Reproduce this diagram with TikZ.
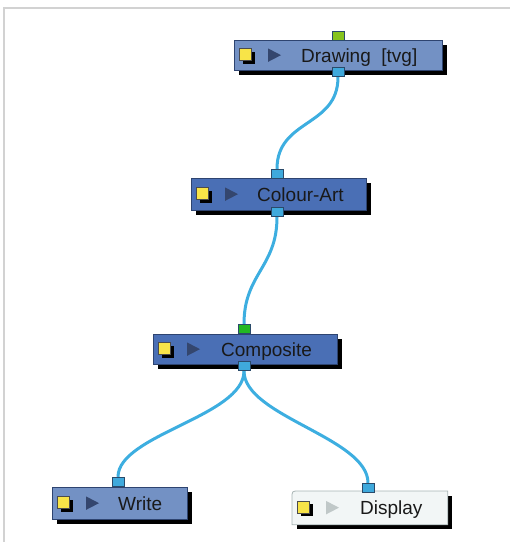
\documentclass[tikz,border=0pt]{standalone}
\usepackage{fontspec}
\setmainfont{Liberation Sans}
\usetikzlibrary{shadows}
\definecolor{boxlight}{HTML}{7391C4}
\definecolor{boxdark}{HTML}{4A6FB5}
\definecolor{boxborder}{HTML}{2E4470}
\definecolor{dispfill}{HTML}{F2F6F6}
\definecolor{dispborder}{HTML}{A8B4B4}
\definecolor{cablecol}{HTML}{3DAEE0}
\definecolor{portblue}{HTML}{3FA9DC}
\definecolor{portgreenl}{HTML}{86C41E}
\definecolor{portgreen}{HTML}{22B822}
\definecolor{portborder}{HTML}{2A4A6A}
\definecolor{iconyellow}{HTML}{F8E448}
\definecolor{tridark}{HTML}{34466E}
\definecolor{trilight}{HTML}{C0C8C8}
\definecolor{framecol}{HTML}{D2D2D2}
\begin{document}
\begin{tikzpicture}[x=1pt,y=-1pt,
  nodebox/.style={draw=boxborder, line width=0.8pt, rectangle, anchor=north west, inner sep=0pt,
    minimum height=30pt,
    drop shadow={shadow xshift=5pt, shadow yshift=-5pt, fill=black, opacity=1}},
  portbox/.style={draw=portborder, line width=0.8pt, rectangle, inner sep=0pt,
    minimum width=12pt, minimum height=9.5pt, fill=portblue},
  yellowicon/.style={draw=black!70, line width=0.6pt, fill=iconyellow, rectangle, inner sep=0pt,
    minimum size=12pt,
    drop shadow={shadow xshift=3.5pt, shadow yshift=-3.5pt, fill=black, opacity=1}},
  lbl/.style={inner sep=0pt, anchor=base west, font=\fontsize{19}{21}\selectfont, text=black!90},
  cable/.style={draw=cablecol, line width=3pt}
]
\useasboundingbox (0,0) rectangle (510,542);
\draw[framecol, line width=2pt] (4,542) -- (4,8) -- (510,8);

% boxes
\node[nodebox, fill=boxlight, minimum width=208pt] (drawing) at (234,40) {};
\node[nodebox, fill=boxdark, minimum width=175pt, minimum height=32pt] (colour) at (191,178) {};
\node[nodebox, fill=boxdark, minimum width=184pt] (comp) at (153,334) {};
\node[nodebox, fill=boxlight, minimum width=135pt, minimum height=32pt] (write) at (52,487) {};
\node[nodebox, draw=none, minimum width=155pt, minimum height=33pt] (display) at (292,491) {};
\filldraw[fill=dispfill, draw=dispborder, line width=0.8pt]
  (display.south west) -- ([yshift=-7pt]display.north west)
  .. controls (display.north west) .. ([xshift=7pt]display.north west)
  -- (display.north east) -- (display.south east) -- cycle;

% icons
\foreach \b/\t in {drawing/tridark, colour/tridark, comp/tridark, write/tridark, display/trilight}{
  \node[yellowicon] (\b icon) at ([xshift=11.5pt,yshift=1pt]\b.west) {};
  \fill[\t] ([xshift=34pt,yshift=7pt]\b.west) -- ([xshift=34pt,yshift=-6.5pt]\b.west)
     -- ([xshift=47pt,yshift=0.25pt]\b.west) -- cycle;
}

% labels
\node[lbl] (drawingtxt) at ([xshift=67pt,yshift=-6.8pt]drawing.west) {Drawing\ \ [tvg]};
\node[lbl] (colourtxt) at ([xshift=66pt,yshift=-6.8pt]colour.west) {Colour-Art};
\node[lbl] (comptxt) at ([xshift=68pt,yshift=-6.8pt]comp.west) {Composite};
\node[lbl] (writetxt) at ([xshift=66pt,yshift=-6.8pt]write.west) {Write};
\node[lbl] (displaytxt) at ([xshift=68pt,yshift=-6.8pt]display.west) {Display};

% ports
\node[portbox, fill=portgreenl] (drawingin) at (338,36) {};
\node[portbox] (drawingout) at (338,72) {};
\node[portbox] (colourin) at (277,174) {};
\node[portbox] (colourout) at (277,212) {};
\node[portbox, fill=portgreen] (compin) at (244,329) {};
\node[portbox] (compout) at (244,366) {};
\node[portbox] (writein) at (118,482) {};
\node[portbox] (displayin) at (368,488) {};

% cables
\draw[cable] (drawingout.south) .. controls +(0,50) and +(0,-50) .. (colourin.north);
\draw[cable] (colourout.south) .. controls +(0,50) and +(0,-50) .. (compin.north);
\draw[cable] (compout.south) .. controls +(0,45) and +(0,-42) .. (writein.north);
\draw[cable] (compout.south) .. controls +(0,45) and +(0,-45) .. (displayin.north);
\end{tikzpicture}
\end{document}
